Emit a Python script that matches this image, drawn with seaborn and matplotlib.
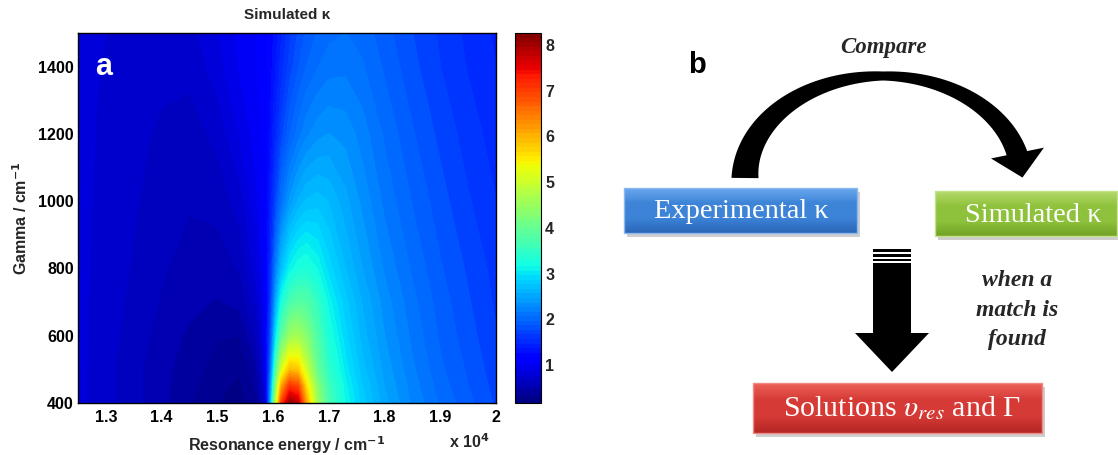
import numpy as np
import matplotlib
matplotlib.use("Agg")
import matplotlib.pyplot as plt
import seaborn as sns
from matplotlib.patches import Rectangle, Polygon
from matplotlib.colors import LinearSegmentedColormap

# ---------------- data ----------------
energy = [12500, 13000, 13500, 14000, 14500, 15000, 15400, 15700, 15850, 15950,
          16050, 16150, 16300, 16450, 16600, 16800, 17000, 17300, 17600, 18000,
          18500, 19000, 19500, 20000]
gamma = [400, 450, 500, 600, 700, 800, 1000, 1200, 1400, 1500]

kappa_g400 = [0.80, 0.70, 0.60, 0.50, 0.38, 0.27, 0.22, 0.35, 0.65, 2.4, 5.0, 7.0, 8.1, 7.8, 6.1, 4.5, 3.7, 3.15, 2.82, 2.5, 2.25, 2.05, 1.9, 1.75]
kappa_g450 = [0.80, 0.70, 0.60, 0.50, 0.40, 0.30, 0.25, 0.40, 0.75, 2.2, 4.4, 6.1, 7.1, 6.9, 5.6, 4.3, 3.6, 3.1, 2.77, 2.47, 2.22, 2.02, 1.87, 1.73]
kappa_g500 = [0.80, 0.70, 0.60, 0.50, 0.42, 0.32, 0.28, 0.45, 0.85, 2.0, 3.8, 5.1, 5.9, 5.8, 5.0, 4.0, 3.45, 3.02, 2.71, 2.43, 2.19, 1.99, 1.85, 1.71]
kappa_g600 = [0.80, 0.72, 0.62, 0.53, 0.45, 0.38, 0.37, 0.58, 0.95, 1.75, 3.0, 3.9, 4.5, 4.6, 4.3, 3.75, 3.27, 2.9, 2.62, 2.37, 2.14, 1.95, 1.81, 1.68]
kappa_g700 = [0.80, 0.72, 0.64, 0.56, 0.50, 0.46, 0.50, 0.72, 1.0, 1.6, 2.55, 3.25, 3.7, 3.85, 3.8, 3.5, 3.12, 2.8, 2.56, 2.32, 2.1, 1.92, 1.78, 1.65]
kappa_g800 = [0.80, 0.73, 0.66, 0.58, 0.53, 0.52, 0.58, 0.82, 1.05, 1.5, 2.2, 2.7, 3.1, 3.25, 3.3, 3.15, 2.92, 2.67, 2.47, 2.25, 2.05, 1.88, 1.75, 1.63]
kappa_g1000 = [0.80, 0.74, 0.68, 0.62, 0.58, 0.60, 0.72, 0.95, 1.08, 1.38, 1.75, 2.08, 2.4, 2.58, 2.68, 2.72, 2.66, 2.5, 2.34, 2.14, 1.96, 1.81, 1.68, 1.57]
kappa_g1200 = [0.80, 0.75, 0.70, 0.65, 0.62, 0.70, 0.88, 1.02, 1.1, 1.28, 1.5, 1.72, 1.96, 2.12, 2.24, 2.33, 2.37, 2.33, 2.22, 2.05, 1.88, 1.74, 1.62, 1.52]
kappa_g1400 = [0.80, 0.76, 0.72, 0.70, 0.70, 0.82, 0.98, 1.06, 1.12, 1.22, 1.37, 1.52, 1.72, 1.86, 1.97, 2.06, 2.12, 2.14, 2.08, 1.95, 1.8, 1.67, 1.56, 1.47]
kappa_g1500 = [0.80, 0.77, 0.74, 0.72, 0.73, 0.86, 1.0, 1.07, 1.12, 1.2, 1.32, 1.46, 1.64, 1.78, 1.89, 1.98, 2.04, 2.07, 2.03, 1.91, 1.77, 1.65, 1.54, 1.45]

x_ticks = [13000, 14000, 15000, 16000, 17000, 18000, 19000, 20000]
x_tick_labels = ["1.3", "1.4", "1.5", "1.6", "1.7", "1.8", "1.9", "2"]
y_ticks = [400, 600, 800, 1000, 1200, 1400]
cbar_ticks = [1, 2, 3, 4, 5, 6, 7, 8]
kappa_min, kappa_max = 0.17, 8.26

# ---------------- style ----------------
sns.set_theme(style="white")
plt.rcParams['font.family'] = ['Liberation Sans', 'DejaVu Sans']
plt.rcParams['axes.edgecolor'] = 'black'

W, H = 1118, 455
fig = plt.figure(figsize=(W / 100, H / 100), dpi=100)
fig.patch.set_facecolor('white')

# ---------------- panel a ----------------
ax = fig.add_axes([78 / W, 52 / H, 418 / W, 370 / H])
Z = np.array([kappa_g400, kappa_g450, kappa_g500, kappa_g600, kappa_g700,
              kappa_g800, kappa_g1000, kappa_g1200, kappa_g1400, kappa_g1500])
X, Y = np.meshgrid(energy, gamma)
levels = np.linspace(kappa_min, kappa_max, 82)
cf = ax.contourf(X, Y, Z, levels=levels, cmap='jet', vmin=kappa_min, vmax=kappa_max)
ax.set_xlim(12500, 20000)
ax.set_ylim(400, 1500)
ax.set_xticks(x_ticks)
ax.set_xticklabels(x_tick_labels)
ax.set_yticks(y_ticks)
for s in ax.spines.values():
    s.set_linewidth(1.0)
    s.set_color('black')
ax.tick_params(direction='in', top=True, right=True, length=4, width=0.8,
               labelsize=11.5, pad=5, colors='black')
ax.tick_params(axis='y', pad=3)
for lab in ax.get_xticklabels() + ax.get_yticklabels():
    lab.set_fontweight('bold')
ax.set_title("Simulated κ", fontsize=11, fontweight='bold', pad=10)
ax.set_ylabel(r"Gamma / cm$^{\mathbf{-1}}$", fontsize=11.5, fontweight='bold')
ax.yaxis.set_label_coords(-0.114, 0.5)
ax.set_xlabel(r"Resonance energy / cm$^{\mathbf{-1}}$", fontsize=11.5, fontweight='bold')
ax.xaxis.set_label_coords(0.5, -0.085)
ax.text(0.935, -0.105, r"x 10$^{\mathbf{4}}$", transform=ax.transAxes, ha='center',
        va='center', fontsize=11.5, fontweight='bold')
ax.text(0.062, 0.908, "a", transform=ax.transAxes, ha='center', va='center',
        fontsize=22, fontweight='bold', color='white')

cax = fig.add_axes([515 / W, 52 / H, 26 / W, 370 / H])
cb = fig.colorbar(cf, cax=cax, ticks=cbar_ticks)
cb.outline.set_linewidth(0.8)
cb.outline.set_edgecolor('black')
cax.tick_params(direction='in', left=True, right=True, length=3, width=0.8,
                labelsize=11.5, pad=3)
for lab in cax.get_yticklabels():
    lab.set_fontweight('bold')
cax.set_yticklabels([str(t) for t in cbar_ticks])

# ---------------- panel b (pixel coordinates overlay) ----------------
ov = fig.add_axes([0, 0, 1, 1], zorder=5)
ov.patch.set_alpha(0)
ov.set_xlim(0, W)
ov.set_ylim(H, 0)
ov.axis('off')

serif = ['Liberation Serif', 'DejaVu Serif']


def box(x0, y0, x1, y1, c_top, c_mid, c_bot, edge):
    ov.add_patch(Rectangle((x0 + 3, y0 + 4), x1 - x0, y1 - y0, color='0.45',
                           alpha=0.35, lw=0, zorder=1))
    grad = np.linspace(0, 1, 64)[:, None]
    cm = LinearSegmentedColormap.from_list('g', [c_top, c_mid, c_mid, c_bot])
    ov.imshow(grad, cmap=cm, extent=(x0, x1, y1, y0), aspect='auto',
              origin='upper', zorder=2, interpolation='bilinear')
    ov.add_patch(Rectangle((x0, y0), x1 - x0, y1 - y0, fill=False, ec=edge,
                           lw=1.0, zorder=3))


box(624, 188, 857, 233, '#6aa8ee', '#3d84d8', '#2a66b8', '#8ab8ee')
box(935, 191, 1117, 236, '#b4da6c', '#8fc23c', '#72a228', '#c4e28a')
box(753, 383, 1042, 433, '#ec625a', '#d63a36', '#b42624', '#f08a84')

ov.text(741, 212, "Experimental κ", ha='center', va='center', fontsize=20.5,
        color='white', family=serif, zorder=4)
ov.text(1033, 215, "Simulated κ", ha='center', va='center', fontsize=20.5,
        color='white', family=serif, zorder=4)
ov.text(902, 408, r"Solutions $\upsilon_{res}$ and Γ", ha='center', va='center',
        fontsize=21.5, color='white', family=serif, math_fontfamily='stix', zorder=4)

ov.text(697, 65, "b", ha='center', va='center', fontsize=21, fontweight='bold',
        color='black')
ov.text(883, 47, "Compare", ha='center', va='center', fontsize=16.5,
        fontweight='bold', style='italic', family=serif)
for txt, yy in [("when a", 281), ("match is", 311), ("found", 339)]:
    ov.text(1017, yy, txt, ha='center', va='center', fontsize=17,
            fontweight='bold', style='italic', family=serif)

# curved arrow (tapered arc)
cx, cy, a_, b_ = 883, 178, 138, 102
th = np.linspace(np.pi, np.deg2rad(13), 200)
px = cx + a_ * np.cos(th)
py = cy - b_ * np.sin(th)
wdt = np.interp(np.rad2deg(th), [13, 90, 180], [21, 9, 27])
dx = np.gradient(px)
dy = np.gradient(py)
nrm = np.hypot(dx, dy)
nx, ny = -dy / nrm, dx / nrm
outer = np.c_[px + nx * wdt / 2, py + ny * wdt / 2]
inner = np.c_[px - nx * wdt / 2, py - ny * wdt / 2]
ov.add_patch(Polygon(np.r_[outer, inner[::-1]], closed=True, color='black',
                     lw=0, zorder=3))
hx, hy = 0.2, 0.98
hn = np.hypot(hx, hy)
hx, hy = hx / hn, hy / hn
ex, ey = px[-1], py[-1] - 2
head = [(ex - hy * 27, ey + hx * 27), (ex + hy * 27, ey - hx * 27),
        (ex + hx * 25, ey + hy * 25)]
ov.add_patch(Polygon(head, closed=True, color='black', lw=0, zorder=3))

# straight down arrow with stripes
for y0_, y1_ in [(249, 251.5), (253.5, 256.5), (258.5, 261)]:
    ov.add_patch(Rectangle((873, y0_), 38, y1_ - y0_, color='black', lw=0, zorder=3))
ov.add_patch(Rectangle((873, 263), 38, 71, color='black', lw=0, zorder=3))
ov.add_patch(Polygon([(855, 333), (929, 333), (892, 372)], closed=True,
                     color='black', lw=0, zorder=3))

fig.savefig("out.png", dpi=100)
